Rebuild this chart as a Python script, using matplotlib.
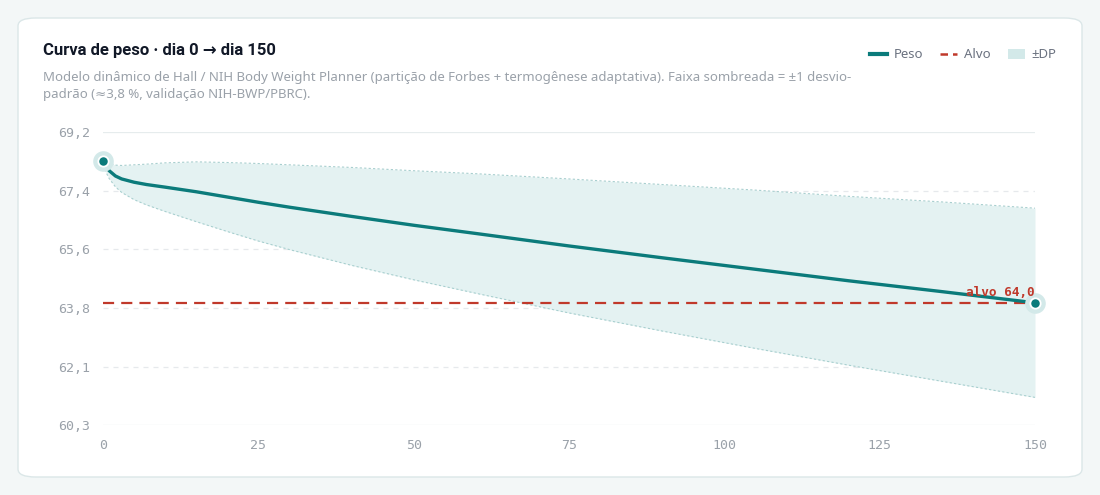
import matplotlib.pyplot as plt
from matplotlib.patches import FancyBboxPatch
from matplotlib.lines import Line2D
from matplotlib.patches import Patch

# dias simulados e peso previsto (kg)
dias = [0, 0.5, 1, 2, 3, 5, 7, 10, 15, 20, 25, 30, 40, 50, 60, 75, 90, 105, 120, 135, 150]
peso = [68.33, 68.15, 68.03, 67.87, 67.78, 67.68, 67.61, 67.53, 67.39, 67.23, 67.07,
        66.92, 66.64, 66.37, 66.12, 65.74, 65.38, 65.03, 64.68, 64.35, 64.01]
faixa_sup = [68.33, 68.32, 68.27, 68.20, 68.19, 68.21, 68.23, 68.27, 68.30, 68.28, 68.25,
             68.21, 68.13, 68.03, 67.94, 67.78, 67.61, 67.44, 67.25, 67.08, 66.89]
faixa_inf = [68.33, 67.98, 67.79, 67.54, 67.37, 67.15, 66.99, 66.79, 66.48, 66.18, 65.89,
             65.63, 65.15, 64.71, 64.30, 63.70, 63.15, 62.62, 62.11, 61.62, 61.13]
alvo = 64.0

y_ticks = [60.28, 62.064, 63.848, 65.632, 67.416, 69.2]
y_labels = ["60,3", "62,1", "63,8", "65,6", "67,4", "69,2"]
x_ticks = [0, 25, 50, 75, 100, 125, 150]

TEAL = "#0b7b7b"
RED = "#c0392b"
GREY = "#9aa1a9"
MONO = "DejaVu Sans Mono"
SANS = ["Noto Sans", "DejaVu Sans"]
BOLD = ["Roboto", "DejaVu Sans"]


def main():
    W, H = 1100, 495
    fig = plt.figure(figsize=(W / 100, H / 100), dpi=100)
    fig.patch.set_facecolor("#f3f7f7")

    # cartão branco
    card = FancyBboxPatch((18 / W, 18 / H), 1064 / W, 459 / H,
                          boxstyle="round,pad=0,rounding_size=0.016",
                          transform=fig.transFigure, facecolor="white",
                          edgecolor="#dbe7e8", linewidth=1.0, zorder=-10)
    fig.patches.append(card)

    fig.text(43 / W, 1 - 50 / H, "Curva de peso · dia 0 → dia 150", fontsize=12,
             fontweight="bold", color="#111827", va="center", family=BOLD)
    fig.text(43 / W, 1 - 86 / H,
             "Modelo dinâmico de Hall / NIH Body Weight Planner (partição de Forbes + "
             "termogênese adaptativa). Faixa sombreada = ±1 desvio-\n"
             "padrão (≈3,8 %, validação NIH-BWP/PBRC).",
             fontsize=9.5, color=GREY, va="center", linespacing=1.45, family=SANS)

    ax = fig.add_axes([103 / W, (H - 425.3) / H, 932 / W, 293 / H])
    ax.set_facecolor("none")
    ax.set_zorder(5)
    ax.set_xlim(0, 150)
    ax.set_ylim(60.28, 69.2)
    for s in ax.spines.values():
        s.set_visible(False)

    # grade horizontal
    for i, y in enumerate(y_ticks):
        if i in (0, len(y_ticks) - 1):
            ax.axhline(y, color="#e6eced", lw=0.9, zorder=0)
        else:
            ax.axhline(y, color="#e6e9ec", lw=0.9, ls=(0, (4, 4)), zorder=0)

    ax.fill_between(dias, faixa_inf, faixa_sup, color="#e4f2f2", lw=0, zorder=1)
    ax.plot(dias, faixa_sup, color="#a8cfcf", lw=0.8, ls=(0, (2, 2)), zorder=2)
    ax.plot(dias, faixa_inf, color="#a8cfcf", lw=0.8, ls=(0, (2, 2)), zorder=2)

    ax.plot([0, 150], [alvo, alvo], color=RED, lw=1.6, ls=(0, (5, 3.2)), zorder=3)
    ax.plot(dias, peso, color=TEAL, lw=2.4, zorder=4, solid_capstyle="round",
            solid_joinstyle="round")

    for x, y in [(dias[0], peso[0]), (dias[-1], peso[-1])]:
        ax.scatter([x], [y], s=220, color="#d3e9e9", lw=0, zorder=5, clip_on=False)
        ax.scatter([x], [y], s=55, color=TEAL, edgecolor="white", lw=1.3,
                   zorder=6, clip_on=False)

    ax.text(150, alvo + 0.12, "alvo 64,0", color=RED, fontsize=9.2,
            fontweight="bold", family=MONO, ha="right", va="bottom", zorder=7)

    ax.set_yticks(y_ticks)
    ax.set_yticklabels(y_labels)
    ax.set_xticks(x_ticks)
    ax.tick_params(length=0, labelsize=9.5, labelcolor=GREY)
    ax.tick_params(axis="y", pad=9)
    ax.tick_params(axis="x", pad=10)
    for lab in ax.get_xticklabels() + ax.get_yticklabels():
        lab.set_family(MONO)

    handles = [Line2D([], [], color=TEAL, lw=3),
               Line2D([], [], color=RED, lw=1.8, ls=(0, (3, 2))),
               Patch(facecolor="#d3e9e9", edgecolor="none")]
    leg = fig.legend(handles, ["Peso", "Alvo", "±DP"], loc="center right",
                     bbox_to_anchor=(1068 / W, 1 - 55 / H), ncol=3, frameon=False,
                     handlelength=1.3, handletextpad=0.5,
                     columnspacing=1.3, prop={"family": SANS, "size": 9.5})
    for t in leg.get_texts():
        t.set_color("#6b7280")

    fig.savefig("out.png", dpi=100, facecolor=fig.get_facecolor())


if __name__ == "__main__":
    main()
